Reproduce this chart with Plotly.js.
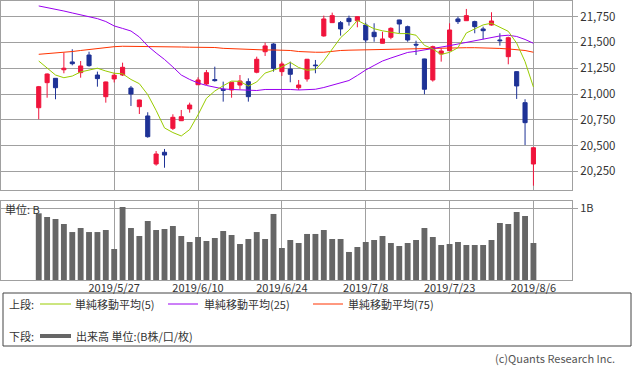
<!DOCTYPE html>
<html><head><meta charset="utf-8">
<script src="https://cdn.plot.ly/plotly-3.0.1.min.js"></script>
<style>html,body{margin:0;padding:0;background:#fff}#chart{width:633px;height:371px}</style>
</head><body><div id="chart"></div>
<script>
const dates = [
 "2019-05-14","2019-05-15","2019-05-16","2019-05-17","2019-05-20","2019-05-21","2019-05-22","2019-05-23","2019-05-24","2019-05-27",
 "2019-05-28","2019-05-29","2019-05-30","2019-05-31","2019-06-03","2019-06-04","2019-06-05","2019-06-06","2019-06-07","2019-06-10",
 "2019-06-11","2019-06-12","2019-06-13","2019-06-14","2019-06-17","2019-06-18","2019-06-19","2019-06-20","2019-06-21","2019-06-24",
 "2019-06-25","2019-06-26","2019-06-27","2019-06-28","2019-07-01","2019-07-02","2019-07-03","2019-07-04","2019-07-05","2019-07-08",
 "2019-07-09","2019-07-10","2019-07-11","2019-07-12","2019-07-16","2019-07-17","2019-07-18","2019-07-19","2019-07-22","2019-07-23",
 "2019-07-24","2019-07-25","2019-07-26","2019-07-29","2019-07-30","2019-07-31","2019-08-01","2019-08-02","2019-08-05","2019-08-06"];
const openP = [20867,21110,21152,21235,21311,21207,21378,21184,20974,21146,
 21184,21058,20877,20787,20321,20435,20667,20741,20855,21090,
 21097,21140,21046,21039,21087,21120,21211,21410,21485,21217,
 21243,21061,21146,21281,21563,21692,21692,21734,21711,21669,
 21599,21492,21550,21718,21653,21482,21340,21136,21388,21420,
 21728,21711,21702,21631,21669,21524,21362,21217,20916,20321];
const highP = [21078,21200,21155,21401,21434,21320,21410,21217,21120,21207,
 21304,21078,20945,20823,20447,20467,20803,20845,20916,21162,
 21233,21265,21120,21116,21184,21152,21362,21498,21492,21314,
 21314,21136,21340,21330,21760,21789,21708,21760,21752,21692,
 21686,21604,21647,21720,21663,21517,21342,21469,21443,21686,
 21750,21825,21711,21653,21793,21589,21556,21220,20949,20482];
const lowP = [20755,20964,20949,21201,21278,21158,21265,21071,20916,21112,
 21175,20884,20806,20576,20305,20285,20651,20738,20819,21088,
 21087,21120,20926,20964,21046,20926,21201,21369,21217,21175,
 21114,21039,21120,21201,21556,21690,21566,21663,21647,21498,
 21507,21490,21531,21589,21507,21378,20997,21120,21314,21418,
 21679,21709,21589,21531,21663,21469,21288,20952,20505,20111];
const closeP = [21071,21194,21061,21250,21294,21272,21275,21149,21117,21182,
 21259,21000,20942,20586,20418,20408,20774,20780,20893,21136,
 21207,21130,21036,21114,21126,20974,21337,21466,21249,21291,
 21191,21087,21337,21275,21728,21760,21631,21702,21750,21524,
 21556,21534,21637,21679,21524,21475,21046,21459,21417,21621,
 21702,21760,21653,21614,21708,21517,21546,21078,20722,20479];
const ma5 = [21320,21249,21184,21158,21174,21214,21230,21250,21223,21201,
 21196,21141,21100,20994,20841,20671,20626,20593,20655,20798,
 20958,21029,21080,21125,21123,21076,21117,21203,21230,21263,
 21307,21257,21231,21236,21324,21437,21546,21619,21714,21673,
 21633,21613,21600,21586,21586,21570,21472,21437,21384,21404,
 21449,21592,21631,21670,21687,21650,21608,21493,21314,21068];
const ma25 = [21854,21839,21820,21805,21786,21766,21747,21731,21703,21660,
 21636,21611,21553,21466,21398,21335,21262,21184,21141,21107,
 21083,21063,21049,21044,21039,21034,21034,21044,21046,21046,
 21044,21039,21039,21046,21063,21087,21107,21131,21180,21233,
 21277,21320,21349,21378,21403,21414,21427,21437,21453,21469,
 21485,21500,21517,21534,21548,21563,21570,21558,21529,21492];
const ma75 = [21385,21391,21396,21403,21412,21422,21432,21440,21448,21459,
 21463,21463,21461,21459,21459,21458,21456,21456,21454,21453,
 21453,21451,21443,21439,21434,21432,21430,21427,21427,21427,
 21422,21412,21405,21405,21405,21417,21422,21425,21427,21427,
 21430,21432,21434,21434,21435,21437,21442,21446,21449,21449,
 21449,21449,21449,21449,21449,21442,21437,21430,21422,21405];
const volumeB = [0.930,0.879,0.851,0.781,0.669,0.725,0.669,0.669,0.697,0.432,
 1.018,0.725,0.614,0.823,0.697,0.711,0.753,0.614,0.530,0.600,
 0.544,0.586,0.683,0.628,0.502,0.572,0.669,0.572,0.921,0.446,
 0.558,0.516,0.642,0.642,0.697,0.572,0.572,0.391,0.460,0.530,
 0.558,0.614,0.516,0.474,0.516,0.558,0.725,0.600,0.488,0.502,
 0.530,0.488,0.488,0.488,0.558,0.795,0.781,0.948,0.893,0.516];
const tickDates = ["2019-05-27","2019-06-10","2019-06-24","2019-07-08","2019-07-23","2019-08-06"];
const tickLabels = ["2019/5/27","2019/6/10","2019/6/24","2019/7/8","2019/7/23","2019/8/6"];
const priceTicks = [20250,20500,20750,21000,21250,21500,21750];
const volTicks = [1];
const volTickLabels = ["1B"];

const FONT = '"Noto Sans CJK JP", "Noto Sans", sans-serif';
const GRID = '#a0a0a0';
const RED = '#f0143c', BLUE = '#1e3296';

const traces = [
 {type:'candlestick', x:dates, open:openP, high:highP, low:lowP, close:closeP,
  xaxis:'x', yaxis:'y', whiskerwidth:0,
  increasing:{line:{color:RED,width:1}, fillcolor:RED},
  decreasing:{line:{color:BLUE,width:1}, fillcolor:BLUE},
  hoverinfo:'skip'},
 {type:'scatter', mode:'lines', x:dates, y:ma75, xaxis:'x', yaxis:'y', line:{color:'#ff3300', width:1}, hoverinfo:'skip'},
 {type:'scatter', mode:'lines', x:dates, y:ma25, xaxis:'x', yaxis:'y', line:{color:'#9a00f0', width:1}, hoverinfo:'skip'},
 {type:'scatter', mode:'lines', x:dates, y:ma5, xaxis:'x', yaxis:'y', line:{color:'#99cc00', width:1}, hoverinfo:'skip'},
 {type:'bar', x:dates, y:volumeB, xaxis:'x', yaxis:'y2', marker:{color:'#666666', line:{width:0}}, width:0.7, hoverinfo:'skip'}
];

function px2x(px){ return (px-1)/571; }
function px2y(py){ return (280-py)/279; }

const shapes = [
 {type:'rect', xref:'paper', yref:'paper', x0:px2x(3), x1:px2x(631), y0:px2y(346), y1:px2y(293), line:{color:'#444', width:1}},
 {type:'line', xref:'paper', yref:'paper', x0:px2x(40), x1:px2x(71), y0:px2y(304), y1:px2y(304), line:{color:'#99cc00', width:1}},
 {type:'line', xref:'paper', yref:'paper', x0:px2x(168), x1:px2x(198), y0:px2y(304), y1:px2y(304), line:{color:'#9a00f0', width:1}},
 {type:'line', xref:'paper', yref:'paper', x0:px2x(313), x1:px2x(343), y0:px2y(304), y1:px2y(304), line:{color:'#ff3300', width:1}},
 {type:'line', xref:'paper', yref:'paper', x0:px2x(40), x1:px2x(71), y0:px2y(336), y1:px2y(336), line:{color:'#666666', width:4}}
];
function ann(text, px, py, anchor, size, color){
 return {text:text, xref:'paper', yref:'paper', x:px2x(px), y:px2y(py), xanchor:anchor||'left', yanchor:'middle',
  showarrow:false, borderpad:0, font:{family:FONT, size:size||11, color:color||'#333'}};
}
const annotations = [
 ann('上段:', 8, 304), ann('単純移動平均(5)', 74, 304), ann('単純移動平均(25)', 203, 304), ann('単純移動平均(75)', 347, 304),
 ann('下段:', 8, 336), ann('出来高 単位:(B株/口/枚)', 75, 336),
 ann('(c)Quants Research Inc.', 616, 358, 'right', 11, '#555'),
 ann('単位: B', 4, 209)
];

const layout = {
 width:633, height:371,
 margin:{l:1, r:61, t:1, b:91},
 paper_bgcolor:'#ffffff', plot_bgcolor:'#ffffff',
 font:{family:FONT, size:11, color:'#333'},
 showlegend:false,
 xaxis:{type:'category', range:[-4.5,63.6], anchor:'y2', tickmode:'array', tickvals:tickDates, ticktext:tickLabels,
  showgrid:true, gridcolor:GRID, gridwidth:1, showline:true, linecolor:GRID, mirror:'all', ticks:'', ticklabelstandoff:-2,
  tickfont:{family:FONT, size:11, color:'#333'}, rangeslider:{visible:false}, fixedrange:true, zeroline:false},
 yaxis:{domain:[0.3226,1], range:[20069,21902], side:'right', tickmode:'array', tickvals:priceTicks, tickformat:',d',
  ticks:'outside', ticklen:5, tickcolor:GRID, gridcolor:GRID, gridwidth:1, showline:true, mirror:true, linecolor:GRID,
  zeroline:false, tickfont:{family:FONT, size:11.5, color:'#333'}, fixedrange:true},
 yaxis2:{domain:[0,0.2832], range:[0,1.102], side:'right', tickmode:'array', tickvals:volTicks, ticktext:volTickLabels,
  ticks:'outside', ticklen:5, tickcolor:GRID, gridcolor:GRID, gridwidth:1, showline:true, mirror:true, linecolor:GRID,
  zeroline:false, tickfont:{family:FONT, size:11, color:'#333'}, fixedrange:true},
 shapes:shapes, annotations:annotations
};
Plotly.newPlot('chart', traces, layout, {displayModeBar:false, staticPlot:true});
</script></body></html>
